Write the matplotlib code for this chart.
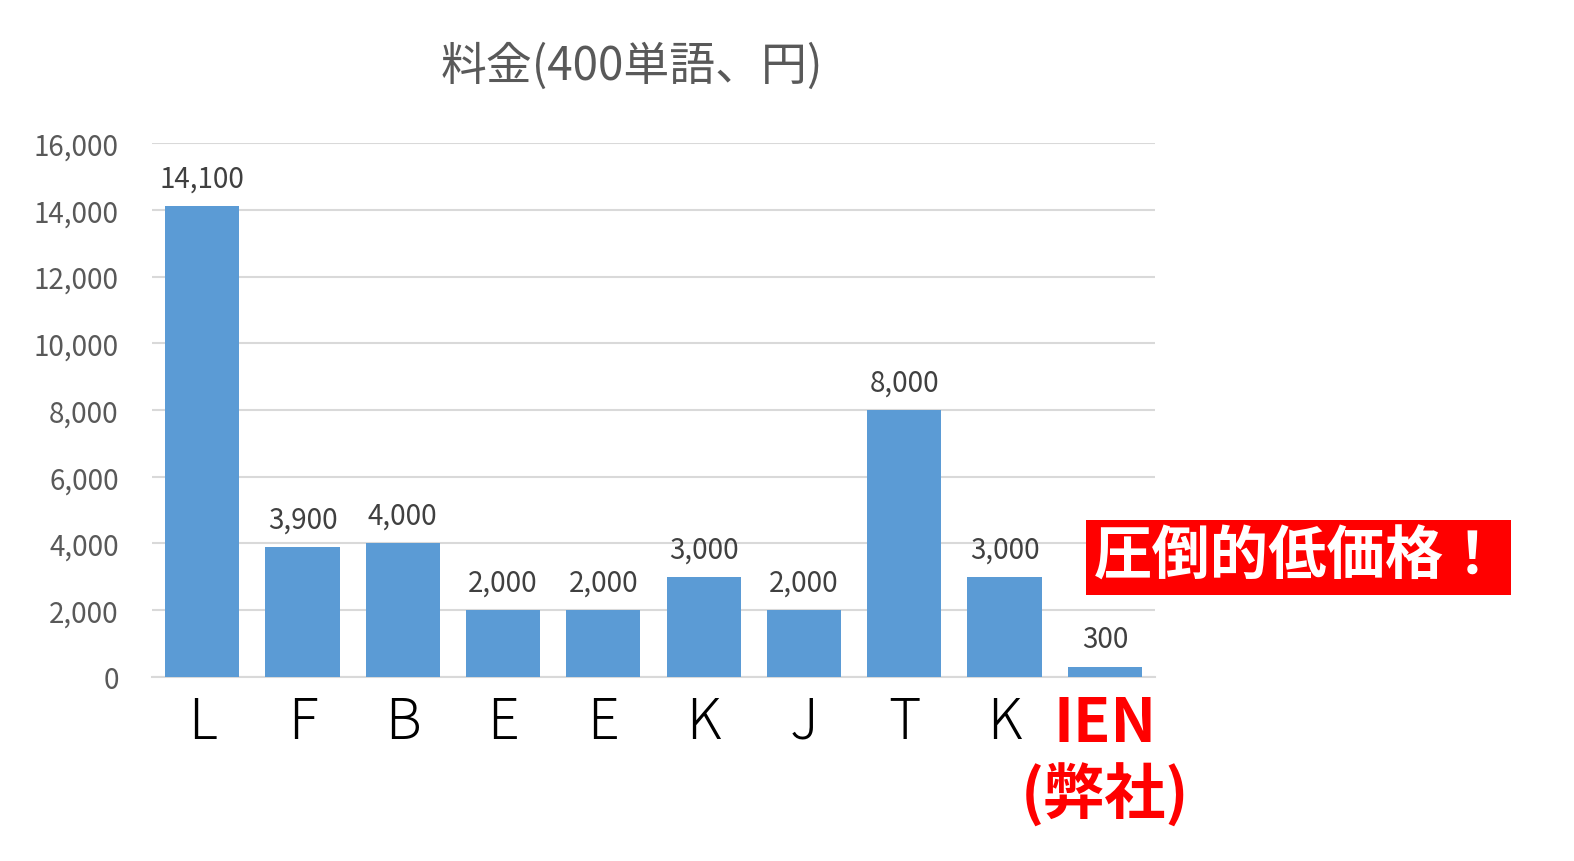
import matplotlib.pyplot as plt
from matplotlib.patches import Rectangle
from matplotlib.ticker import FuncFormatter, MultipleLocator

plt.rcParams['font.family'] = ['Noto Sans CJK JP', 'DejaVu Sans']

# data
companies = ['L', 'F', 'B', 'E', 'E', 'K', 'J', 'T', 'K', 'IEN\n(弊社)']
prices = [14100, 3900, 4000, 2000, 2000, 3000, 2000, 8000, 3000, 300]

fig = plt.figure(figsize=(15.74, 8.62), dpi=100)
ax = fig.add_axes([0.0966, 0.2135, 0.6372, 0.6194])

x = range(len(companies))
bars = ax.bar(x, prices, width=0.74, color='#5B9BD5', zorder=3)
ax.bar_label(bars, labels=[f'{v:,}' for v in prices], padding=9,
             fontsize=20, color='#404040')

ax.set_xlim(-0.5, len(companies) - 0.5)
ax.set_ylim(0, 16000)
ax.yaxis.set_major_locator(MultipleLocator(2000))
ax.yaxis.set_major_formatter(FuncFormatter(lambda v, p: f'{int(v):,}'))
ax.grid(axis='y', color='#D9D9D9', linewidth=1.5, zorder=0)
for s in ['top', 'right', 'left']:
    ax.spines[s].set_visible(False)
ax.spines['bottom'].set_color('#D9D9D9')
ax.spines['bottom'].set_linewidth(1.5)

ax.tick_params(axis='y', length=0, labelsize=20, labelcolor='#595959', pad=24)
ax.tick_params(axis='x', length=0, pad=11)
ax.set_xticks(list(x))
ax.set_xticklabels(companies, fontsize=40, color='black', fontweight='light')
last = ax.get_xticklabels()[-1]
last.set_color('#FF0000')
last.set_fontweight('bold')
last.set_fontsize(44)
last.set_linespacing(1.17)

fig.text(632 / 1574, 1 - 67 / 862, '料金(400単語、円)', fontsize=33,
         color='#595959', ha='center', va='center')

# callout box
fig.add_artist(Rectangle((1086 / 1574, 1 - 596 / 862), 425 / 1574, 75 / 862,
                         transform=fig.transFigure, facecolor='#FF0000',
                         edgecolor='none'))
fig.text(1298 / 1574, 1 - 558 / 862, '圧倒的低価格！', fontsize=42,
         fontweight='bold', color='white', ha='center', va='center')

fig.savefig('out.png', dpi=100)
